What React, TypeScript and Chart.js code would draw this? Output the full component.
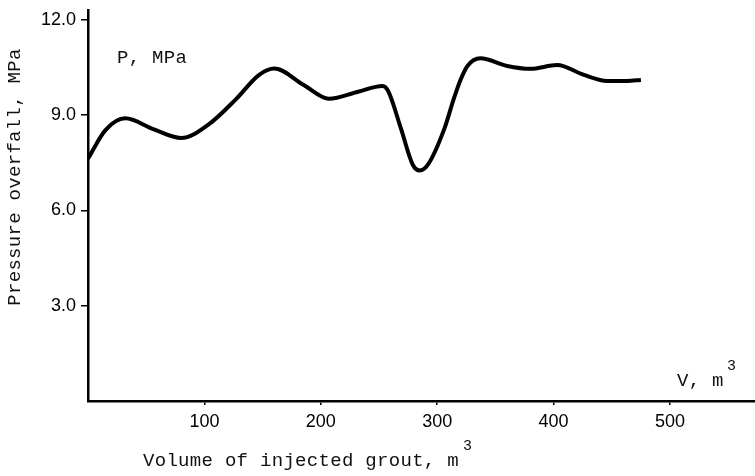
import React, { useEffect, useRef } from "react";
import { Chart, registerables } from "chart.js";

Chart.register(...registerables);

const volume = [0, 15, 32, 56, 80, 104, 127, 147, 160, 185, 207, 232, 253, 258, 269, 279, 285, 292, 306, 314, 320, 326, 337, 360, 380, 403, 426, 446, 463, 475];
const pressure = [7.63, 8.53, 8.9, 8.56, 8.28, 8.72, 9.5, 10.27, 10.47, 9.96, 9.52, 9.74, 9.92, 9.75, 8.56, 7.44, 7.26, 7.44, 8.56, 9.49, 10.11, 10.55, 10.79, 10.55, 10.46, 10.58, 10.27, 10.08, 10.08, 10.11];
const xTicks = [100, 200, 300, 400, 500];
const yTicks = [3, 6, 9, 12];

const yTitle = "Pressure overfall, MPa";
const xTitle = "Volume of injected grout, m";
const pLabel = "P, MPa";
const vLabel = "V, m";

const textPlugin = {
  id: "texts",
  afterDraw(chart: any) {
    const ctx = chart.ctx;
    ctx.save();
    ctx.fillStyle = "#111";
    ctx.font = '19px "Liberation Mono"';
    (ctx as any).letterSpacing = "0.3px";
    ctx.textBaseline = "middle";
    ctx.textAlign = "left";
    ctx.fillText(pLabel, 117, 58);
    ctx.fillText(vLabel, 677, 381);
    ctx.fillText(xTitle, 143, 461);
    ctx.font = '15px "Liberation Mono"';
    ctx.fillText("3", 727, 366);
    ctx.fillText("3", 463, 446);
    ctx.font = '19px "Liberation Mono"';
    ctx.translate(15, 177);
    ctx.rotate(-Math.PI / 2);
    ctx.textAlign = "center";
    ctx.fillText(yTitle, 0, 0);
    ctx.restore();
  },
};

export default function App() {
  const ref = useRef<HTMLCanvasElement>(null);
  useEffect(() => {
    document.body.style.margin = "0";
    const chart = new Chart(ref.current!, {
      type: "line",
      data: {
        datasets: [
          {
            data: volume.map((v, i) => ({ x: v, y: pressure[i] })),
            borderColor: "#000",
            borderWidth: 4,
            pointRadius: 0,
            cubicInterpolationMode: "monotone",
            fill: false,
          },
        ],
      },
      options: {
        animation: false,
        responsive: false,
        layout: { padding: { top: 7, right: 0, left: 0, bottom: 0 } },
        plugins: { legend: { display: false }, tooltip: { enabled: false } },
        scales: {
          x: {
            type: "linear",
            min: 0,
            max: 573,
            afterFit(scale: any) {
              scale.height = 75;
            },
            afterBuildTicks(scale: any) {
              scale.ticks = xTicks.map((v) => ({ value: v }));
            },
            ticks: {
              color: "#000",
              font: { family: "Liberation Sans", size: 18, lineHeight: 0.6 },
              padding: 12,
              maxRotation: 0,
            },
            grid: { drawOnChartArea: false, drawTicks: true, tickLength: 4, color: "#000", lineWidth: 1.5 },
            border: { color: "#000", width: 2.5 },
          },
          y: {
            type: "linear",
            min: 0,
            max: 12.3,
            afterFit(scale: any) {
              scale.width = 88;
            },
            afterBuildTicks(scale: any) {
              scale.ticks = yTicks.map((v) => ({ value: v }));
            },
            ticks: {
              color: "#000",
              font: { family: "Liberation Sans", size: 18, lineHeight: 0.6 },
              padding: 5,
              callback: (v: any) => Number(v).toFixed(1),
            },
            grid: { drawOnChartArea: false, drawTicks: true, tickLength: 7, color: "#000", lineWidth: 1.5 },
            border: { color: "#000", width: 2.5 },
          },
        },
      },
      plugins: [textPlugin],
    });
    return () => chart.destroy();
  }, []);
  return (
    <div style={{ position: "absolute", left: 0, top: 0, width: 755, height: 476, background: "#fff" }}>
      <canvas ref={ref} width={755} height={476} style={{ width: 755, height: 476 }} />
    </div>
  );
}
